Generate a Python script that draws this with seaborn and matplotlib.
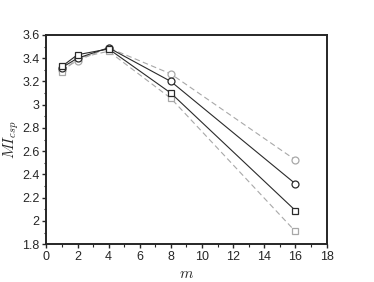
import numpy as np
import pandas as pd
import seaborn as sns
import matplotlib.pyplot as plt
from matplotlib.ticker import MultipleLocator

sns.set_style("ticks")
plt.rcParams['font.family'] = ['Liberation Sans', 'DejaVu Sans']
plt.rcParams['mathtext.fontset'] = 'cm'

m = [1, 2, 4, 8, 16]
black_circle = [3.32, 3.40, 3.49, 3.20, 2.32]
black_square = [3.33, 3.43, 3.48, 3.10, 2.09]
gray_circle = [3.30, 3.38, 3.49, 3.265, 2.525]
gray_square = [3.28, 3.40, 3.46, 3.055, 1.91]

series = [
    (gray_circle, 'o', '#a8a8a8', (5, 3)),
    (gray_square, 's', '#a8a8a8', (5, 3)),
    (black_circle, 'o', '#2a2a2a', ''),
    (black_square, 's', '#2a2a2a', ''),
]

fig = plt.figure(figsize=(3.74, 2.82), dpi=100)
ax = fig.add_axes([0.124, 0.134, 0.749, 0.742])

for vals, mk, col, dash in series:
    df = pd.DataFrame({'m': m, 'v': vals})
    sns.lineplot(data=df, x='m', y='v', ax=ax, color=col, lw=0.8,
                 marker=mk, markersize=5, markerfacecolor='white',
                 markeredgecolor=col, markeredgewidth=0.9)
    if dash != '':
        ax.lines[-1].set_dashes(dash)

ax.set_xlim(0, 18)
ax.set_ylim(1.8, 3.6)
ax.xaxis.set_major_locator(MultipleLocator(2))
ax.xaxis.set_minor_locator(MultipleLocator(1))
ax.yaxis.set_minor_locator(MultipleLocator(0.1))
ax.set_yticks(np.arange(1.8, 3.61, 0.2))
ax.set_yticklabels(['1.8', '2', '2.2', '2.4', '2.6', '2.8', '3', '3.2', '3.4', '3.6'])
ax.tick_params(which='major', direction='out', length=3, width=1, labelsize=9, pad=2)
ax.tick_params(which='minor', direction='out', length=1.8, width=0.8)
for s in ax.spines.values():
    s.set_linewidth(1.4)
    s.set_visible(True)

ax.set_xlabel(r'$m$', fontsize=11, labelpad=3)
ax.set_ylabel(r'$MI_{csp}$', fontsize=11, labelpad=1)

fig.savefig('out.png', dpi=100)
